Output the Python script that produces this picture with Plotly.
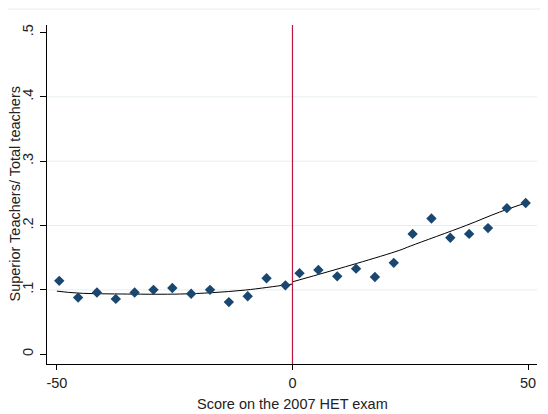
import plotly.graph_objects as go

# Binned scatter data (score bins, share of superior teachers)
left_x = [-49.5, -45.5, -41.5, -37.5, -33.5, -29.5, -25.5, -21.5, -17.5, -13.5, -9.5, -5.5, -1.5]
left_y = [0.114, 0.088, 0.096, 0.086, 0.096, 0.100, 0.103, 0.094, 0.100, 0.081, 0.090, 0.118, 0.107]
right_x = [1.5, 5.5, 9.5, 13.5, 17.5, 21.5, 25.5, 29.5, 33.5, 37.5, 41.5, 45.5, 49.5]
right_y = [0.126, 0.131, 0.121, 0.133, 0.120, 0.142, 0.187, 0.211, 0.181, 0.187, 0.196, 0.227, 0.235]

# Fitted curves
fit_left_x = [-50, -45.5, -35, -24, -17, -10, -1.6, 0]
fit_left_y = [0.098, 0.095, 0.0935, 0.0935, 0.0957, 0.0997, 0.1075, 0.109]
fit_right_x = [0, 13.6, 22.8, 25, 37, 44, 49.9]
fit_right_y = [0.1125, 0.141, 0.1617, 0.168, 0.2005, 0.221, 0.236]

x_ticks = [-50, 0, 50]
x_labels = ["-50", "0", "50"]
y_ticks = [0, 0.1, 0.2, 0.3, 0.4, 0.5]
y_labels = ["0", ".1", ".2", ".3", ".4", ".5"]
cutoff = 0

navy = "#1a476f"
font = "Liberation Sans, Arial, sans-serif"
fs = 14.5

fig = go.Figure()
fig.add_trace(go.Scatter(x=fit_left_x, y=fit_left_y, mode="lines", line=dict(color="black", width=1, shape="spline"), hoverinfo="skip"))
fig.add_trace(go.Scatter(x=fit_right_x, y=fit_right_y, mode="lines", line=dict(color="black", width=1, shape="spline"), hoverinfo="skip"))
fig.add_trace(go.Scatter(x=left_x + right_x, y=left_y + right_y, mode="markers",
                         marker=dict(symbol="diamond", size=8, color=navy, line=dict(width=0))))

shapes = []
for v in y_ticks[1:-1]:
    shapes.append(dict(type="line", xref="paper", yref="y", x0=0, x1=1, y0=v, y1=v,
                       line=dict(color="#e6eef0", width=1), layer="below"))
shapes.append(dict(type="line", xref="x", yref="paper", x0=cutoff, x1=cutoff, y0=0, y1=1,
                   line=dict(color="#b8163f", width=1.2), layer="above"))
shapes.append(dict(type="line", xref="paper", yref="paper", x0=-0.1, x1=1.03, y0=1.047, y1=1.047,
                   line=dict(color="#e6ecee", width=1)))

annotations = [
    dict(text="Score on the 2007 HET exam", xref="paper", yref="paper", x=0.5, y=-30 / 339,
         xanchor="center", yanchor="top", showarrow=False, font=dict(size=fs, color="#222222")),
    dict(text="Superior Teachers/ Total teachers", xref="paper", yref="paper", x=-33 / 490, y=0.5,
         xanchor="center", yanchor="middle", textangle=-90, showarrow=False,
         font=dict(size=fs, color="#222222")),
]

fig.update_layout(
    width=540, height=406,
    margin=dict(l=39, r=11, t=17, b=50),
    paper_bgcolor="white", plot_bgcolor="white",
    showlegend=False,
    font=dict(family=font, size=fs, color="#222222"),
    shapes=shapes,
    annotations=annotations,
    xaxis=dict(range=[-52.1, 51.9], tickvals=x_ticks, ticktext=x_labels,
               showgrid=False, zeroline=False, showline=True, linecolor="black", linewidth=1,
               ticks="outside", ticklen=5, tickcolor="black", ticklabelstandoff=1),
    yaxis=dict(range=[-0.0152, 0.5116], tickvals=y_ticks, ticktext=y_labels, tickangle=-90,
               showgrid=False, zeroline=False, showline=True, linecolor="black", linewidth=1,
               ticks="outside", ticklen=6, tickcolor="black", ticklabelstandoff=1),
)

fig.write_html("out.html")
